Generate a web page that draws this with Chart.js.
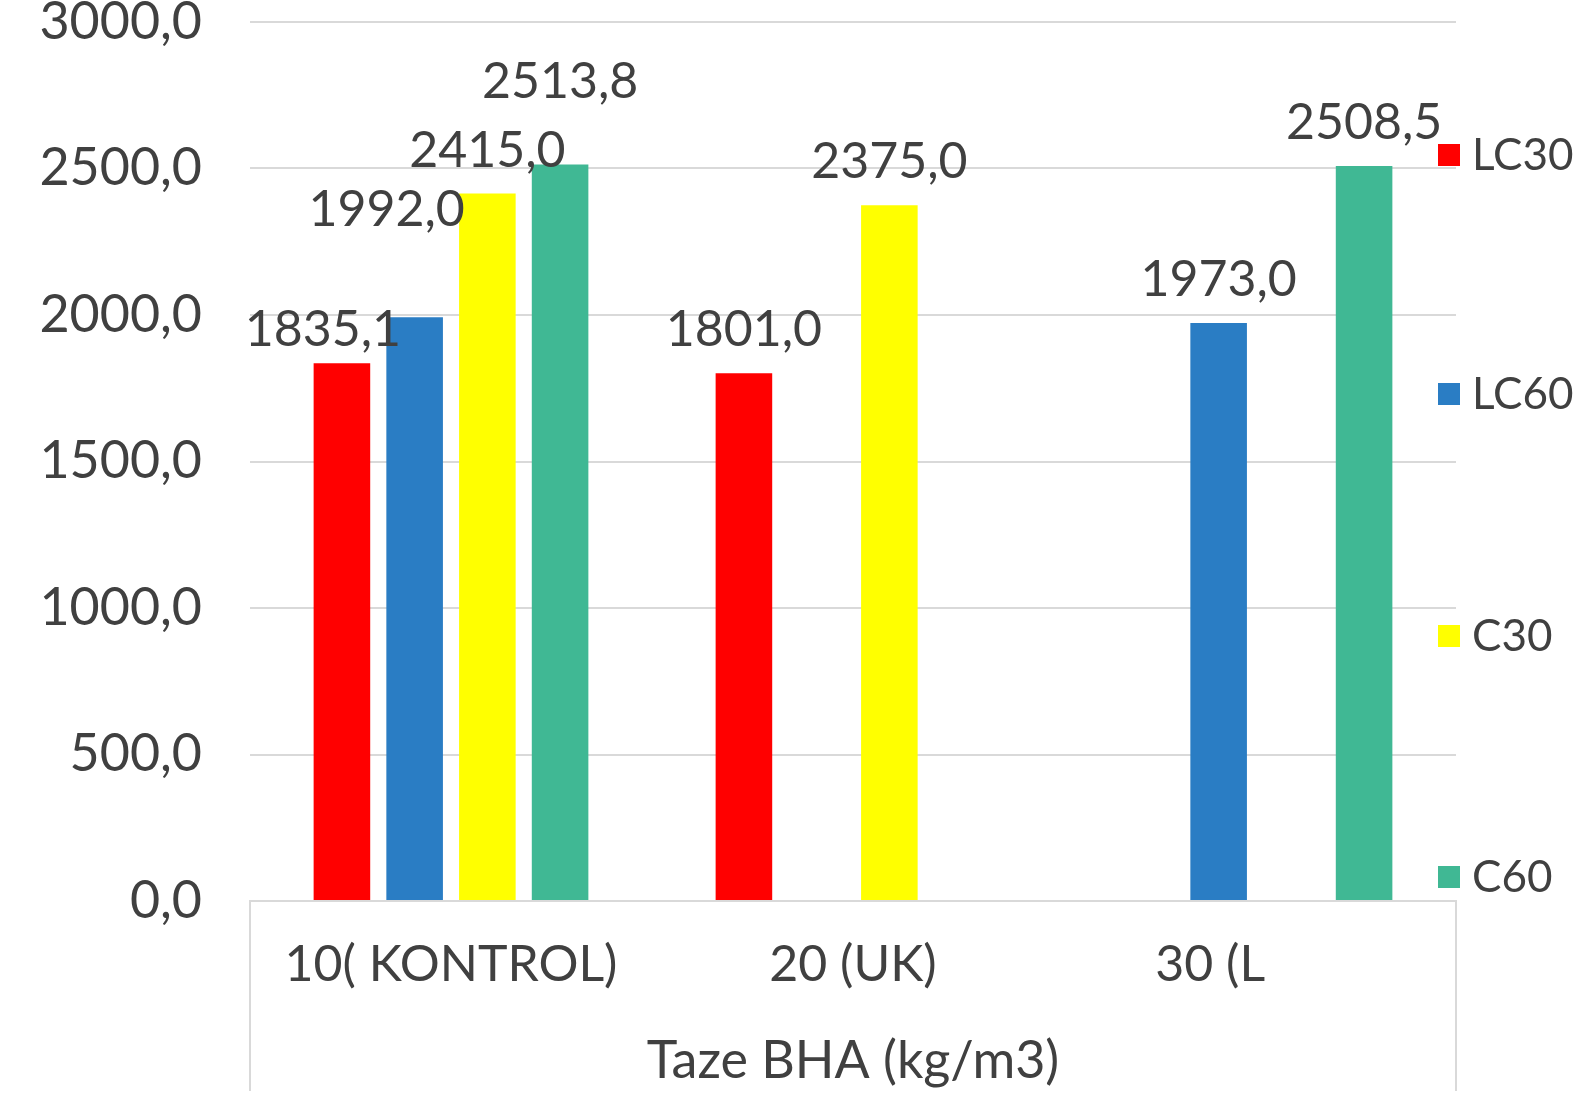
<!DOCTYPE html>
<html>
<head>
<meta charset="utf-8">
<script src="https://cdn.jsdelivr.net/npm/chart.js@4/dist/chart.umd.min.js"></script>
<style>
  html, body { margin: 0; padding: 0; background: #ffffff; }
  #wrap { width: 1584px; height: 1116px; position: relative; }
</style>
</head>
<body>
<div id="wrap"><canvas id="chart" width="1584" height="1116"></canvas></div>
<script>
// Fresh BHA dosage groups and the four mix series
const categories = ['10( KONTROL)', '20 (UK)', '30 (L       '];
const seriesNames = ['LC30', 'LC60', 'C30', 'C60'];
const lc30 = [1835.1, 1801.0, null];
const lc60 = [1992.0, null, 1973.0];
const c30 = [2415.0, 2375.0, null];
const c60 = [2513.8, null, 2508.5];
const yTicks = [0, 500, 1000, 1500, 2000, 2500, 3000];
const axisTitle = 'Taze BHA (kg/m3)';

const colors = ['#FF0000', '#2A7DC4', '#FFFF00', '#40B894'];
const textColor = '#404040';
const gridColor = '#D9D9D9';
const FONT = 'Lato, "Open Sans", sans-serif';

// hand-placed value labels: [dataset][index] -> [dx, dy] relative to default spot
const labelNudge = {
  '0,0': [-19, 10],
  '1,0': [-28, -64],
  '3,0': [0, -40]
};

const fmt = v => v.toFixed(1).replace('.', ',');

const valueLabels = {
  id: 'valueLabels',
  afterDatasetsDraw(chart) {
    const ctx = chart.ctx;
    ctx.save();
    ctx.font = '50px ' + FONT;
    ctx.fillStyle = textColor;
    ctx.textAlign = 'center';
    ctx.textBaseline = 'middle';
    chart.data.datasets.forEach((ds, di) => {
      const meta = chart.getDatasetMeta(di);
      meta.data.forEach((bar, i) => {
        const v = ds.data[i];
        if (v === null || v === undefined) return;
        const n = labelNudge[di + ',' + i] || [0, 0];
        ctx.fillText(fmt(v), bar.x + n[0], bar.y - 43 + n[1]);
      });
    });
    ctx.restore();
  }
};

const sideLegend = {
  id: 'sideLegend',
  afterDraw(chart) {
    const ctx = chart.ctx;
    const x = 1438, rows = [155, 394, 636, 877], box = 22;
    ctx.save();
    ctx.font = '44px ' + FONT;
    ctx.textBaseline = 'middle';
    ctx.textAlign = 'left';
    chart.data.datasets.forEach((ds, i) => {
      ctx.fillStyle = ds.backgroundColor;
      ctx.fillRect(x, rows[i] - box / 2, box, box);
      ctx.fillStyle = textColor;
      ctx.fillText(ds.label, x + box + 12, rows[i] + 1);
    });
    ctx.restore();
  }
};

// outer group brackets under the category axis
const groupBrackets = {
  id: 'groupBrackets',
  afterDraw(chart) {
    const { ctx, chartArea } = chart;
    ctx.save();
    ctx.strokeStyle = gridColor;
    ctx.lineWidth = 2;
    [chartArea.left, chartArea.right].forEach(x => {
      ctx.beginPath();
      ctx.moveTo(x, chartArea.bottom);
      ctx.lineTo(x, 1091);
      ctx.stroke();
    });
    ctx.restore();
  }
};

const seriesData = [lc30, lc60, c30, c60];

new Chart(document.getElementById('chart'), {
  type: 'bar',
  data: {
    labels: categories,
    datasets: seriesNames.map((name, i) => ({
      label: name,
      data: seriesData[i],
      backgroundColor: colors[i],
      borderWidth: 0,
      categoryPercentage: 0.7236,
      barPercentage: 0.778
    }))
  },
  options: {
    responsive: false,
    animation: false,
    layout: { padding: { top: 22, right: 128, left: 0, bottom: 0 } },
    plugins: {
      legend: { display: false },
      tooltip: { enabled: false }
    },
    scales: {
      x: {
        grid: { display: false, drawTicks: false },
        border: { display: true, color: gridColor, width: 2 },
        ticks: {
          color: textColor,
          font: { family: FONT, size: 50 },
          padding: 34,
          maxRotation: 0,
          autoSkip: false
        },
        title: {
          display: true,
          text: axisTitle,
          color: textColor,
          font: { family: FONT, size: 52 },
          padding: { top: 0, bottom: 24 }
        },
        afterFit(scale) {
          scale.height = 215;
          scale.paddingLeft = 0;
          scale.paddingRight = 0;
        }
      },
      y: {
        min: 0,
        max: 3000,
        afterBuildTicks(scale) { scale.ticks = yTicks.map(v => ({ value: v })); },
        grid: { color: gridColor, lineWidth: 2, drawTicks: false },
        border: { display: false },
        ticks: {
          color: textColor,
          font: { family: FONT, size: 52 },
          padding: 48,
          callback: v => fmt(v)
        },
        afterFit(scale) {
          scale.width = 250;
          scale.paddingTop = 0;
          scale.paddingBottom = 0;
        }
      }
    }
  },
  plugins: [valueLabels, sideLegend, groupBrackets]
});
</script>
</body>
</html>
